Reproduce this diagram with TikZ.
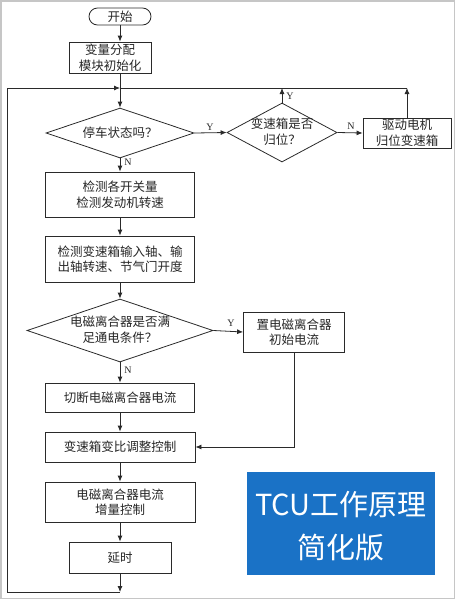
\documentclass[tikz,border=0pt]{standalone}
\usepackage{fontspec}
\setmainfont{Liberation Serif}
\newfontfamily\cjk{Noto Sans CJK SC}
\usetikzlibrary{shapes.geometric,arrows.meta}
\definecolor{lineclr}{HTML}{2A2A2A}
\definecolor{tcublue}{HTML}{1A72C6}
\tikzset{
  box/.style={draw=lineclr, line width=0.8pt, rectangle, inner sep=0pt, align=center,
    font=\cjk\fontsize{12.5}{15.5}\selectfont, text=black!85},
  dia/.style={draw=lineclr, line width=0.8pt, diamond, inner sep=0pt},
  diatext/.style={inner sep=0pt, align=center, font=\cjk\fontsize{12.5}{15.5}\selectfont, text=black!85},
  conn/.style={draw=lineclr, line width=0.8pt},
  arr/.style={conn, -{Latex[length=6pt,width=5pt]}},
  yn/.style={inner sep=0pt, font=\fontsize{10}{12}\selectfont, text=black!85},
}
\begin{document}
\begin{tikzpicture}[x=1pt,y=-1pt]
\useasboundingbox (0,0) rectangle (456,600);
\draw[draw=gray!45, line width=1.5pt] (1,1) rectangle (454.5,598.5);

% nodes
\node[box, rounded corners=8.5pt, minimum width=62pt, minimum height=17pt] (start) at (120,16.5) {开始};
\node[box, minimum width=82pt, minimum height=31pt] (init) at (110,57.5) {变量分配\\模块初始化};
\node[dia, minimum width=148pt, minimum height=50pt] (d1) at (120,133) {};
\node[diatext] (d1t) at (120,133) {停车状态吗？};
\node[dia, minimum width=110pt, minimum height=59pt] (d2) at (282,132.5) {};
\node[diatext] (d2t) at (282,131.5) {变速箱是否\\归位？};
\node[box, minimum width=88pt, minimum height=30pt] (drive) at (407,133) {驱动电机\\归位变速箱};
\node[box, minimum width=149pt, minimum height=45pt] (b1) at (120,194.5) {检测各开关量\\检测发动机转速};
\node[box, minimum width=149pt, minimum height=46pt] (b2) at (120,259) {检测变速箱输入轴、输\\出轴转速、节气门开度};
\node[dia, minimum width=186pt, minimum height=63pt] (d3) at (120,330.5) {};
\node[diatext] (d3t) at (120,329.5) {电磁离合器是否满\\足通电条件？};
\node[box, minimum width=101pt, minimum height=40pt] (setc) at (294,332) {置电磁离合器\\初始电流};
\node[box, minimum width=149pt, minimum height=29pt] (cut) at (120,397.5) {切断电磁离合器电流};
\node[box, minimum width=150pt, minimum height=30pt] (adj) at (120,447) {变速箱变比调整控制};
\node[box, minimum width=150pt, minimum height=40pt] (inc) at (120,502) {电磁离合器电流\\增量控制};
\node[box, minimum width=102pt, minimum height=31pt] (delay) at (120,557.5) {延时};

% coordinates
\coordinate (jt) at (120,88);
\coordinate (topr) at (407,88);
\coordinate (topm) at (282,88);
\coordinate (bot) at (120,592);
\coordinate (botl) at (7.5,592);
\coordinate (topl) at (7.5,88);
\coordinate (bend) at (294,447);

% connectors
\draw[arr] (start.south) -- (start.south |- init.north);
\draw[conn] (init.south -| jt) -- (jt);
\draw[arr] (jt) -- (d1.north);
\draw[arr] (d1.east) -- (d2.west);
\draw[arr] (d2.east) -- (drive.west);
\draw[arr] (d2.north) -- (topm);
\draw[arr] (drive.north) -- (topr);
\draw[conn] (jt) -- (topr);
\draw[arr] (d1.south) -- (b1.north);
\draw[arr] (b1.south) -- (b2.north);
\draw[arr] (b2.south) -- (d3.north);
\draw[arr] (d3.south) -- (cut.north);
\draw[arr] (d3.east) -- (setc.west);
\draw[arr] (cut.south) -- (adj.north);
\draw[arr] (setc.south) -- (bend) -- (adj.east);
\draw[arr] (adj.south) -- (inc.north);
\draw[arr] (inc.south) -- (delay.south |- inc.south) -- (delay.north);
\draw[arr] (delay.south) -- (bot);
\draw[arr] (bot) -- (botl) -- (topl) -- (jt);

% Y/N labels
\node[yn] (l1) at (210,127) {Y};
\node[yn] (l2) at (351,126) {N};
\node[yn] (l3) at (290,96) {Y};
\node[yn] (l4) at (128,162) {N};
\node[yn] (l5) at (231,323) {Y};
\node[yn] (l6) at (128,370) {N};

% title panel
\node[fill=tcublue, minimum width=188pt, minimum height=103pt, inner sep=0pt] (panel) at (341,523.5) {};
\node[inner sep=0pt, text=white, font=\cjk\fontsize{29}{34}\selectfont] (t1) at (341,505) {TCU工作原理};
\node[inner sep=0pt, text=white, font=\cjk\fontsize{29}{34}\selectfont] (t2) at (341,548) {简化版};
\end{tikzpicture}
\end{document}
